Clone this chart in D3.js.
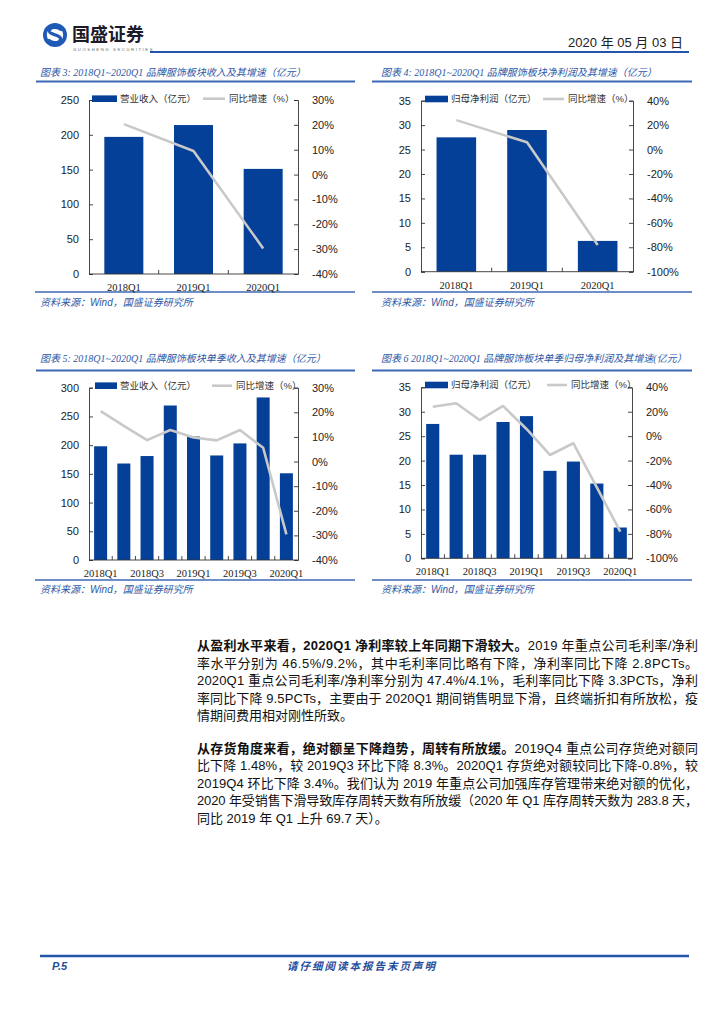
<!DOCTYPE html>
<html><head><meta charset="utf-8">
<script src="https://cdn.jsdelivr.net/npm/d3@7"></script>
<style>body{margin:0;background:#fff}svg{display:block}</style>
</head><body>
<svg id="page" width="724" height="1024"></svg>
<script>
// ---------- data ----------
const annualQuarters = ["2018Q1", "2019Q1", "2020Q1"];
const annualRevenue = [197, 214, 151];
const annualRevenueYoY = [20.3, 9.5, -29.7];
const annualProfit = [27.5, 29.0, 6.3];
const annualProfitYoY = [24.1, 5.9, -78.1];

const quarters = ["2018Q1", "2018Q2", "2018Q3", "2018Q4", "2019Q1", "2019Q2", "2019Q3", "2019Q4", "2020Q1"];
const quarterRevenue = [198, 168, 181, 269, 215, 182, 203, 283, 151];
const quarterRevenueYoY = [20.5, 14.5, 8.7, 12.8, 9.8, 8.6, 12.8, 5.6, -29.6];
const quarterProfit = [27.5, 21.2, 21.2, 27.9, 29.1, 17.9, 19.8, 15.3, 6.3];
const quarterProfitYoY = [24.1, 26.9, 13.2, 24.7, 5.9, -15.4, -5.8, -41.9, -78.2];
const quarterTickLabels = ["2018Q1", "2018Q3", "2019Q1", "2019Q3", "2020Q1"];

const revenueTicks = [0, 50, 100, 150, 200, 250];
const revenueTicksQ = [0, 50, 100, 150, 200, 250, 300];
const profitTicks = [0, 5, 10, 15, 20, 25, 30, 35];
const revenuePctTicks = [-40, -30, -20, -10, 0, 10, 20, 30];
const profitPctTicks = [-100, -80, -60, -40, -20, 0, 20, 40];

// ---------- style ----------
const BLUE = "#043f98";
const GRAY = "#c9c9c9";
const TITLE_BLUE = "#2d58a6";
const RULE_BLUE = "#3d68b4";
const CJK = "'Liberation Sans','Noto Sans CJK SC',sans-serif";
const SERIF_CJK = "'Liberation Serif','Noto Sans CJK SC',serif";

const svg = d3.select("#page");

// ---------- header ----------
const logo = svg.append("g");
logo.append("circle").attr("cx", 55).attr("cy", 35).attr("r", 12).attr("fill", "#1f5bb5");
logo.append("circle").attr("cx", 55).attr("cy", 35).attr("r", 8.2).attr("fill", "#fff");
logo.append("path")
  .attr("d", "M61,29.5 C57,26 49,27 49.5,31.5 C50,35 60,34.5 60.5,38.5 C61,43 53,44 49,40.5")
  .attr("fill", "none").attr("stroke", "#1f5bb5").attr("stroke-width", 3.2).attr("stroke-linecap", "round");
logo.append("text").attr("x", 72).attr("y", 41).text("国盛证券")
  .attr("font-family", "'Noto Sans CJK SC'").attr("font-weight", 700).attr("font-size", 18).attr("fill", "#1b1b2a");
logo.append("text").attr("x", 73).attr("y", 51).text("GUOSHENG SECURITIES")
  .attr("font-family", "'Liberation Sans'").attr("font-size", 4.2).attr("letter-spacing", 1.6).attr("fill", "#666");

svg.append("text").attr("x", 683).attr("y", 47).attr("text-anchor", "end")
  .attr("font-family", CJK).attr("font-size", 13).attr("fill", "#222").text("2020 年 05 月 03 日");
svg.append("line").attr("x1", 150).attr("x2", 689).attr("y1", 52).attr("y2", 52)
  .attr("stroke", "#2356a8").attr("stroke-width", 2);

// ---------- titles / sources ----------
function title(x, y, txt) {
  svg.append("text").attr("x", x).attr("y", y).text(txt)
    .attr("font-family", SERIF_CJK).attr("font-style", "italic").attr("font-size", 10).attr("fill", TITLE_BLUE);
}
function rule(x1, x2, y, w) {
  svg.append("line").attr("x1", x1).attr("x2", x2).attr("y1", y).attr("y2", y)
    .attr("stroke", RULE_BLUE).attr("stroke-width", w);
}
function source(x, y) {
  svg.append("text").attr("x", x).attr("y", y).text("资料来源：Wind，国盛证券研究所")
    .attr("font-family", CJK).attr("font-style", "italic").attr("font-size", 10).attr("fill", TITLE_BLUE);
}
title(40, 76, "图表 3:  2018Q1~2020Q1 品牌服饰板块收入及其增速（亿元）");
title(381, 76, "图表 4:  2018Q1~2020Q1 品牌服饰板块净利润及其增速（亿元）");
rule(36, 355, 81.5, 1.8); rule(372, 692, 81.5, 1.8);
rule(35, 355, 292, 1.5); rule(372, 692, 292, 1.5);
source(40, 306); source(381, 306);

title(40, 362, "图表 5:  2018Q1~2020Q1 品牌服饰板块单季收入及其增速（亿元）");
title(381, 362, "图表 6  2018Q1~2020Q1 品牌服饰板块单季归母净利润及其增速(亿元）");
rule(36, 355, 370.5, 1.8); rule(372, 692, 370.5, 1.8);
rule(35, 355, 580, 1.5); rule(372, 692, 580, 1.5);
source(40, 593); source(381, 593);

// ---------- chart drawer ----------
function drawChart(c) {
  const g = svg.append("g");
  const x = d3.scaleBand().domain(c.cats).range([c.x0, c.x1]).padding(0);
  const yL = d3.scaleLinear().domain(c.leftDomain).range([c.y1, c.y0]);
  const yR = d3.scaleLinear().domain(c.rightDomain).range([c.y1, c.y0]);
  const bw = x.bandwidth() * 0.56;

  // bars
  g.selectAll("rect.bar").data(c.bars).enter().append("rect")
    .attr("x", (d, i) => x(c.cats[i]) + (x.bandwidth() - bw) / 2)
    .attr("width", bw)
    .attr("y", d => yL(d))
    .attr("height", d => yL(0) - yL(d))
    .attr("fill", BLUE);

  // line
  const line = d3.line().x((d, i) => x(c.cats[i]) + x.bandwidth() / 2).y(d => yR(d));
  g.append("path").datum(c.line).attr("d", line)
    .attr("fill", "none").attr("stroke", GRAY).attr("stroke-width", 2.6).attr("stroke-linejoin", "round");

  // left axis
  const la = g.append("g").attr("transform", `translate(${c.x0},0)`)
    .call(d3.axisLeft(yL).tickValues(c.leftTicks).tickSize(-4).tickPadding(10).tickFormat(d3.format("d")));
  // right axis
  const ra = g.append("g").attr("transform", `translate(${c.x1},0)`)
    .call(d3.axisRight(yR).tickValues(c.rightTicks).tickSize(-4).tickPadding(14).tickFormat(d => d + "%"));
  [la, ra].forEach(a => {
    a.select(".domain").attr("stroke", "#333").attr("stroke-width", 0.9);
    a.selectAll(".tick line").attr("stroke", "#333").attr("stroke-width", 0.9);
    a.selectAll("text").attr("font-family", "'Liberation Sans'").attr("font-size", 11).attr("fill", "#222");
  });
  // bottom axis with ticks at band boundaries
  g.append("line").attr("x1", c.x0).attr("x2", c.x1).attr("y1", c.y1).attr("y2", c.y1)
    .attr("stroke", "#333").attr("stroke-width", 0.9);
  const bounds = c.cats.slice(1).map(k => x(k));
  g.selectAll("line.bt").data(bounds).enter().append("line")
    .attr("x1", d => d).attr("x2", d => d).attr("y1", c.y1).attr("y2", c.y1 - 4)
    .attr("stroke", "#333").attr("stroke-width", 0.9);
  g.selectAll("text.xl").data(c.xLabels).enter().append("text")
    .attr("x", d => x(d) + x.bandwidth() / 2).attr("y", c.y1 + 17)
    .attr("text-anchor", "middle").attr("font-family", "'Liberation Serif'").attr("font-size", 10.5)
    .attr("fill", "#222").text(d => d);

  // legend
  const L = c.legend;
  g.append("rect").attr("x", L.rx).attr("y", L.y - 3.3).attr("width", L.rw).attr("height", 6.6).attr("fill", BLUE);
  g.append("text").attr("x", L.rx + L.rw + 3).attr("y", L.y + 3.3).text(c.barLabel)
    .attr("font-family", CJK).attr("font-size", 9.5).attr("fill", "#333");
  g.append("line").attr("x1", L.lx).attr("x2", L.lx + L.lw).attr("y1", L.y).attr("y2", L.y)
    .attr("stroke", GRAY).attr("stroke-width", 2.6);
  g.append("text").attr("x", L.lx + L.lw + 4).attr("y", L.y + 3.3).text(c.lineLabel)
    .attr("font-family", CJK).attr("font-size", 9.5).attr("fill", "#333");
}

drawChart({
  x0: 89, x1: 298, y0: 100, y1: 274,
  cats: annualQuarters, bars: annualRevenue, line: annualRevenueYoY,
  leftDomain: [0, 250], leftTicks: revenueTicks,
  rightDomain: [-40, 30], rightTicks: revenuePctTicks,
  xLabels: annualQuarters, barLabel: "营业收入（亿元）", lineLabel: "同比增速（%）",
  legend: { rx: 92, rw: 25, lx: 203, lw: 22, y: 98.7 }
});
drawChart({
  x0: 421, x1: 633, y0: 100.7, y1: 271.7,
  cats: annualQuarters, bars: annualProfit, line: annualProfitYoY,
  leftDomain: [0, 35], leftTicks: profitTicks,
  rightDomain: [-100, 40], rightTicks: profitPctTicks,
  xLabels: annualQuarters, barLabel: "归母净利润（亿元）", lineLabel: "同比增速（%）",
  legend: { rx: 425, rw: 23, lx: 543, lw: 21, y: 99 }
});
drawChart({
  x0: 89, x1: 298, y0: 387.7, y1: 560,
  cats: quarters, bars: quarterRevenue, line: quarterRevenueYoY,
  leftDomain: [0, 300], leftTicks: revenueTicksQ,
  rightDomain: [-40, 30], rightTicks: revenuePctTicks,
  xLabels: quarterTickLabels, barLabel: "营业收入（亿元）", lineLabel: "同比增速（%）",
  legend: { rx: 95, rw: 22, lx: 212, lw: 20, y: 385.7 }
});
drawChart({
  x0: 421, x1: 632, y0: 387.3, y1: 558.3,
  cats: quarters, bars: quarterProfit, line: quarterProfitYoY,
  leftDomain: [0, 35], leftTicks: profitTicks,
  rightDomain: [-100, 40], rightTicks: profitPctTicks,
  xLabels: quarterTickLabels, barLabel: "归母净利润（亿元）", lineLabel: "同比增速（%）",
  legend: { rx: 425, rw: 23, lx: 547, lw: 20, y: 385 }
});

// ---------- body text ----------
const para1 = [
  [["从盈利水平来看，2020Q1 净利率较上年同期下滑较大。", true], ["2019 年重点公司毛利率/净利", false]],
  [["率水平分别为 46.5%/9.2%，其中毛利率同比略有下降，净利率同比下降 2.8PCTs。", false]],
  [["2020Q1 重点公司毛利率/净利率分别为 47.4%/4.1%，毛利率同比下降 3.3PCTs，净利", false]],
  [["率同比下降 9.5PCTs，主要由于 2020Q1 期间销售明显下滑，且终端折扣有所放松，疫", false]],
  [["情期间费用相对刚性所致。", false]]
];
const para2 = [
  [["从存货角度来看，绝对额呈下降趋势，周转有所放缓。", true], ["2019Q4 重点公司存货绝对额同", false]],
  [["比下降 1.48%，较 2019Q3 环比下降 8.3%。2020Q1 存货绝对额较同比下降-0.8%，较", false]],
  [["2019Q4 环比下降 3.4%。我们认为 2019 年重点公司加强库存管理带来绝对额的优化，", false]],
  [["2020 年受销售下滑导致库存周转天数有所放缓（2020 年 Q1 库存周转天数为 283.8 天，", false]],
  [["同比 2019 年 Q1 上升 69.7 天）。", false]]
];
function paragraph(lines, y0) {
  lines.forEach((segs, i) => {
    const t = svg.append("text").attr("x", 197).attr("y", y0 + i * 17.6)
      .attr("font-family", CJK).attr("font-size", 13).attr("fill", "#111");
    segs.forEach(([s, b]) => t.append("tspan").attr("font-weight", b ? 700 : 400).text(s));
    if (i < lines.length - 1) t.attr("textLength", 501).attr("lengthAdjust", "spacing");
  });
}
paragraph(para1, 650);
paragraph(para2, 752.5);

// ---------- footer ----------
svg.append("line").attr("x1", 40).attr("x2", 689).attr("y1", 956).attr("y2", 956)
  .attr("stroke", "#2356a8").attr("stroke-width", 2.4);
svg.append("text").attr("x", 52).attr("y", 970).text("P.5")
  .attr("font-family", "'Liberation Sans'").attr("font-weight", 700).attr("font-style", "italic")
  .attr("font-size", 11).attr("fill", "#1f4e9c");
svg.append("text").attr("x", 362).attr("y", 970).attr("text-anchor", "middle").text("请仔细阅读本报告末页声明")
  .attr("font-family", CJK).attr("font-weight", 700).attr("font-style", "italic")
  .attr("font-size", 10.5).attr("letter-spacing", 2).attr("fill", "#1f4e9c");
</script>
</body></html>
